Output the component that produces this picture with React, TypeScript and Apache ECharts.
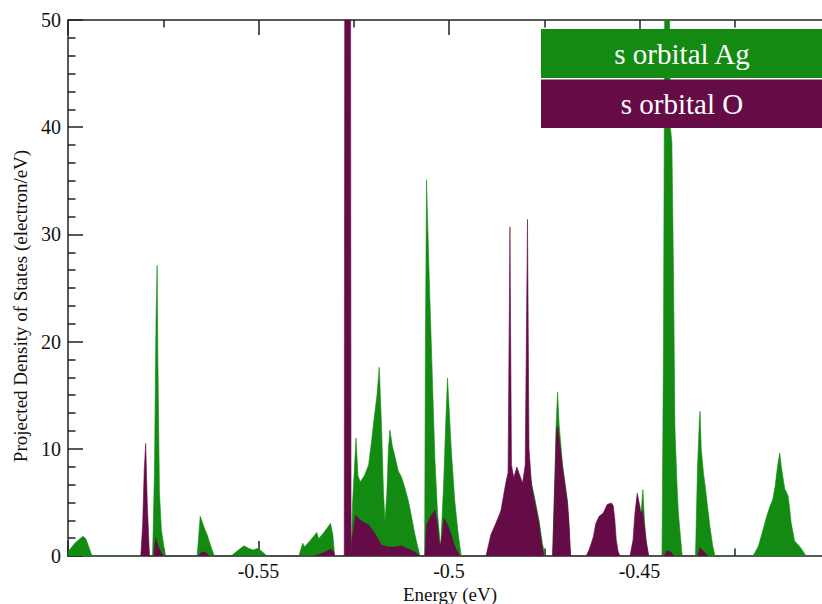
import React, { useEffect, useRef } from "react";
import * as echarts from "echarts";

// Energy (eV) / projected DOS (electron/eV)
const agSOrbital: [number, number][] = [
  [-0.6, 0.4], [-0.5982, 1.2], [-0.5961, 1.85], [-0.5953, 1.6], [-0.5937, 0],
  [-0.5778, 0], [-0.5773, 8], [-0.5769, 22], [-0.5766, 27.1], [-0.5764, 18], [-0.576, 6], [-0.5755, 2.5], [-0.5749, 1], [-0.5744, 0],
  [-0.5661, 0], [-0.5653, 3.7], [-0.5642, 2.6], [-0.5635, 2.0], [-0.5624, 0.8], [-0.5616, 0],
  [-0.5572, 0], [-0.5551, 0.6], [-0.5538, 0.95], [-0.5525, 0.7], [-0.5514, 0.55], [-0.5504, 0.7], [-0.5493, 0.5], [-0.5478, 0],
  [-0.5394, 0], [-0.5384, 1.2], [-0.5379, 0.85], [-0.5363, 1.5], [-0.5347, 2.2], [-0.5342, 1.6], [-0.5326, 2.3], [-0.5311, 3.05], [-0.5305, 2.0], [-0.53, 0],
  [-0.5257, 0], [-0.5253, 5], [-0.5244, 11.0], [-0.5239, 7.5], [-0.5233, 6.9], [-0.5222, 7.5], [-0.5211, 8.5], [-0.5204, 10.5], [-0.5196, 13], [-0.5189, 15], [-0.5183, 17.6], [-0.5177, 12], [-0.5172, 6], [-0.5168, 3.2], [-0.5163, 6], [-0.5159, 10], [-0.5155, 11.75], [-0.5149, 10.3], [-0.5142, 9.3], [-0.5133, 7.9], [-0.5125, 7.4], [-0.5117, 6.5], [-0.5107, 5.2], [-0.5099, 3.8], [-0.509, 2.1], [-0.5083, 1.0], [-0.5076, 0],
  [-0.5064, 0], [-0.5062, 19], [-0.5059, 35.1], [-0.5052, 26], [-0.5044, 17], [-0.5037, 9], [-0.503, 4], [-0.5022, 0.7], [-0.5014, 6.8], [-0.5009, 12], [-0.5004, 16.6], [-0.5, 14], [-0.4994, 9.9], [-0.4985, 5.2], [-0.4976, 2.1], [-0.4968, 0],
  [-0.4791, 0], [-0.4786, 7.2], [-0.4775, 5.4], [-0.4764, 3.4], [-0.4755, 1.2], [-0.4748, 0],
  [-0.4728, 0], [-0.4722, 7.5], [-0.4719, 12], [-0.4715, 15.3], [-0.4711, 12.3], [-0.4702, 8.5], [-0.4689, 5.1], [-0.4681, 0],
  [-0.4517, 0], [-0.4496, 4.1], [-0.4491, 6.2], [-0.4487, 3.3], [-0.4482, 1.2], [-0.4476, 0],
  [-0.4441, 0], [-0.4437, 20], [-0.4433, 60], [-0.4423, 60], [-0.4419, 40], [-0.4415, 38.6], [-0.4411, 27], [-0.4407, 12], [-0.4402, 7], [-0.4398, 4.0], [-0.4393, 2.0], [-0.4388, 0],
  [-0.4353, 0], [-0.4348, 8], [-0.4343, 12.5], [-0.4341, 13.5], [-0.4338, 10], [-0.4332, 7.7], [-0.4328, 6.6], [-0.4321, 4.5], [-0.4315, 2.7], [-0.4308, 1.0], [-0.4302, 0],
  [-0.4202, 0], [-0.4188, 0.9], [-0.4176, 2.4], [-0.4167, 3.6], [-0.4158, 4.6], [-0.415, 5.3], [-0.4144, 6.5], [-0.4138, 8.3], [-0.4132, 9.6], [-0.4128, 8.4], [-0.4119, 6.3], [-0.411, 5.6], [-0.4106, 4.5], [-0.4102, 3.1], [-0.4093, 1.4], [-0.408, 0.9], [-0.407, 0.4], [-0.4063, 0],
];

const oSOrbital: [number, number][] = [
  [-0.5809, 0], [-0.5804, 3], [-0.58, 8], [-0.5796, 10.5], [-0.5792, 5], [-0.5788, 1.5], [-0.5786, 0],
  [-0.5775, 0], [-0.577, 1.7], [-0.5762, 0.8], [-0.5755, 0.3], [-0.5749, 0],
  [-0.5658, 0], [-0.5648, 0.4], [-0.5637, 0.3], [-0.5629, 0],
  [-0.5355, 0], [-0.5329, 0.3], [-0.5311, 0.65], [-0.5303, 0.4], [-0.53, 0],
  [-0.5275, 0], [-0.5273, 80], [-0.5259, 80], [-0.5257, 0], [-0.5255, 1.5], [-0.5245, 3.8], [-0.5232, 3.3], [-0.5211, 2.9], [-0.5196, 2.2], [-0.5177, 1.0], [-0.5159, 0.85], [-0.5141, 0.85], [-0.5125, 0.95], [-0.5107, 0.65], [-0.5091, 0.4], [-0.5076, 0],
  [-0.5063, 0], [-0.5059, 2.9], [-0.505, 3.6], [-0.5037, 4.3], [-0.5031, 3.0], [-0.5024, 0.8], [-0.502, 1.5], [-0.5013, 3.5], [-0.5008, 3.2], [-0.4998, 2.4], [-0.4985, 0.9], [-0.4972, 0],
  [-0.4903, 0], [-0.489, 2.0], [-0.488, 2.8], [-0.4864, 4.2], [-0.4851, 6.8], [-0.4845, 7.8], [-0.484, 30.7], [-0.4836, 8.5], [-0.483, 7.3], [-0.4822, 8.3], [-0.4815, 7.6], [-0.4807, 6.8], [-0.48, 8.5], [-0.4794, 31.4], [-0.479, 10], [-0.4783, 6.5], [-0.4775, 5.0], [-0.4764, 3.0], [-0.4757, 1.2], [-0.4751, 0],
  [-0.4728, 0], [-0.4722, 7.1], [-0.4718, 11.8], [-0.4715, 12.1], [-0.4702, 8.3], [-0.4689, 4.9], [-0.4685, 3.1], [-0.4681, 0],
  [-0.464, 0], [-0.4632, 0.6], [-0.4621, 1.8], [-0.4615, 3.0], [-0.4606, 3.7], [-0.4595, 4.0], [-0.4585, 4.8], [-0.4574, 4.95], [-0.4569, 4.7], [-0.4565, 3.5], [-0.4561, 1.5], [-0.4556, 0.4], [-0.4551, 0],
  [-0.4525, 0], [-0.4517, 1.5], [-0.4512, 4], [-0.4506, 5.85], [-0.4501, 5.0], [-0.4496, 4.0], [-0.4492, 4.2], [-0.4488, 3.0], [-0.4483, 1.5], [-0.4476, 0],
  [-0.4436, 0], [-0.4428, 0.5], [-0.4418, 0.4], [-0.441, 0],
  [-0.4347, 0], [-0.4342, 0.8], [-0.4334, 0.5], [-0.4326, 0.2], [-0.4321, 0],
];

const seriesNames = ["s orbital Ag", "s orbital O"];
const xTickLabels = ["-0.55", "-0.5", "-0.45"];
const xAxisTitle = "Energy (eV)";
const yAxisTitle = "Projected Density of States (electron/eV)";

const GREEN = "#138b13";
const PURPLE = "#650c47";
const AXIS = "#222";
const FONT = '"Liberation Serif", "Times New Roman", serif';

export default function App() {
  const ref = useRef<HTMLDivElement>(null);
  useEffect(() => {
    if (!ref.current) return;
    const chart = echarts.init(ref.current, null, { renderer: "svg" });
    const lineStyle = { color: AXIS, width: 1.5 };
    const xCommon = {
      type: "value",
      min: -0.6,
      max: -0.4,
      interval: 0.05,
      axisLine: { show: true, onZero: false, lineStyle },
      axisTick: { show: true, inside: true, length: 15, lineStyle },
      minorTick: { show: true, splitNumber: 2, length: 7.5, lineStyle },
      splitLine: { show: false },
      minorSplitLine: { show: false },
    };
    chart.setOption({
      animation: false,
      backgroundColor: "#fff",
      grid: { left: 68, right: 0, top: 20, bottom: 48 },
      xAxis: [
        {
          ...xCommon,
          position: "bottom",
          axisLabel: {
            fontSize: 20,
            lineHeight: 20,
            fontFamily: FONT,
            color: "#111",
            margin: 5,
            formatter: (v: number) => {
              const s = String(+v.toFixed(3));
              return xTickLabels.includes(s) ? s : "";
            },
          },
        },
        { ...xCommon, position: "top", axisLabel: { show: false } },
      ],
      yAxis: {
        type: "value",
        min: 0,
        max: 50,
        interval: 10,
        axisLine: { show: true, lineStyle },
        axisTick: { show: true, inside: true, length: 15, lineStyle },
        minorTick: { show: true, splitNumber: 6, length: 7.5, lineStyle },
        splitLine: { show: false },
        minorSplitLine: { show: false },
        axisLabel: { fontSize: 20, fontFamily: FONT, color: "#111", margin: 7 },
      },
      series: [
        {
          name: seriesNames[0],
          type: "line",
          data: agSOrbital,
          symbol: "none",
          lineStyle: { color: GREEN, width: 0.6 },
          itemStyle: { color: GREEN },
          areaStyle: { color: GREEN, opacity: 1 },
          z: 2,
        },
        {
          name: seriesNames[1],
          type: "line",
          data: oSOrbital,
          symbol: "none",
          lineStyle: { color: PURPLE, width: 0.6 },
          itemStyle: { color: PURPLE },
          areaStyle: { color: PURPLE, opacity: 1 },
          z: 3,
        },
      ],
      graphic: [
        { type: "rect", z: 100, shape: { x: 541, y: 29, width: 300, height: 49 }, style: { fill: GREEN } },
        { type: "rect", z: 100, shape: { x: 541, y: 79.5, width: 300, height: 48.5 }, style: { fill: PURPLE } },
        {
          type: "text", z: 101, x: 682, y: 53.5,
          style: { text: seriesNames[0], fill: "#fff", font: `29px ${FONT}`, align: "center", verticalAlign: "middle", textAlign: "center", textVerticalAlign: "middle" },
        },
        {
          type: "text", z: 101, x: 682, y: 104,
          style: { text: seriesNames[1], fill: "#fff", font: `29px ${FONT}`, align: "center", verticalAlign: "middle", textAlign: "center", textVerticalAlign: "middle" },
        },
        {
          type: "text", z: 101, x: 450, y: 594,
          style: { text: xAxisTitle, fill: "#111", font: `19px ${FONT}`, align: "center", verticalAlign: "middle", textAlign: "center", textVerticalAlign: "middle" },
        },
        {
          type: "text", z: 101, x: 20, y: 306, rotation: Math.PI / 2,
          style: { text: yAxisTitle, fill: "#111", font: `19px ${FONT}`, align: "center", verticalAlign: "middle", textAlign: "center", textVerticalAlign: "middle" },
        },
      ],
    });
    return () => chart.dispose();
  }, []);
  return (
    <div
      ref={ref}
      style={{ position: "fixed", left: 0, top: 0, width: 833, height: 604, background: "#fff" }}
    />
  );
}
